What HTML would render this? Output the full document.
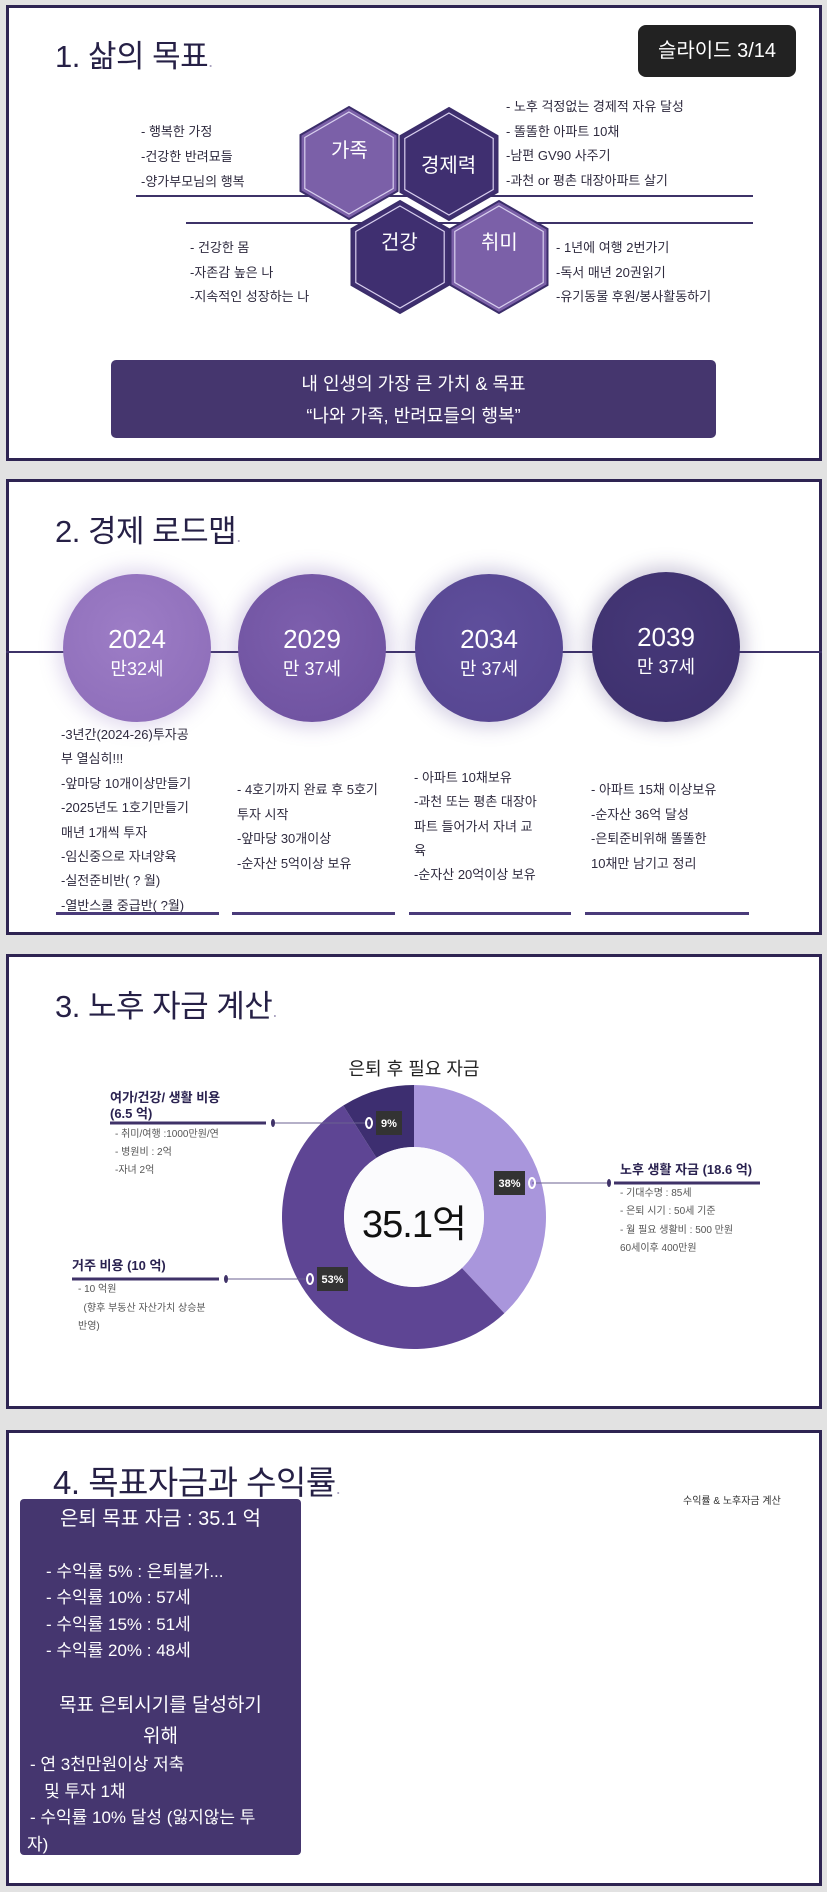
<!DOCTYPE html>
<html><head><meta charset="utf-8">
<style>
*{margin:0;padding:0;box-sizing:border-box}
body{width:827px;height:1892px;background:#e2e2e2;position:relative;overflow:hidden;font-family:"Liberation Sans","Noto Sans CJK KR",sans-serif;color:#2a2250}
.slide{position:absolute;left:6px;width:816px;background:#fff;border:3px solid #2e2452}
.abs{position:absolute;white-space:nowrap}
.title{font-size:31px;color:#262046;letter-spacing:-0.5px}
.title .dot{color:#aaa3c0;font-size:18px}
.t13{font-size:13px;color:#2e2a3e}
.line{position:absolute;background:#3d3268}
</style></head><body>

<!-- Slide 1 -->
<div class="slide" style="top:5px;height:456px"></div>
<div class="abs title" style="left:55px;top:31px">1. 삶의 목표<span class="dot">.</span></div>
<div class="abs" style="left:638px;top:25px;width:158px;height:52px;background:#222;border-radius:8px;color:#fff;font-size:20px;line-height:52px;text-align:center">슬라이드 3/14</div>
<div class="line" style="left:136px;top:195px;width:617px;height:2px"></div>
<div class="line" style="left:186px;top:222px;width:567px;height:2px"></div>
<svg class="abs" style="left:0;top:0" width="827" height="470">
<g id="hexes"></g>
</svg>
<div class="abs" style="left:331px;top:134px;font-size:20px;color:#fff">가족</div>
<div class="abs" style="left:421px;top:149px;font-size:20px;color:#fff">경제력</div>
<div class="abs" style="left:381px;top:226px;font-size:20px;color:#fff">건강</div>
<div class="abs" style="left:481px;top:226px;font-size:20px;color:#fff">취미</div>
<div class="abs t13" style="left:141px;top:119px;line-height:25px">- 행복한 가정<br>-건강한 반려묘들<br>-양가부모님의 행복</div>
<div class="abs t13" style="left:506px;top:95px;line-height:24.5px">- 노후 걱정없는 경제적 자유 달성<br>- 똘똘한 아파트 10채<br>-남편 GV90 사주기<br>-과천 or 평촌 대장아파트 살기</div>
<div class="abs t13" style="left:190px;top:236px;line-height:24.5px">- 건강한 몸<br>-자존감 높은 나<br>-지속적인 성장하는 나</div>
<div class="abs t13" style="left:556px;top:236px;line-height:24.5px">- 1년에 여행 2번가기<br>-독서 매년 20권읽기<br>-유기동물 후원/봉사활동하기</div>
<div class="abs" style="left:111px;top:360px;width:605px;height:78px;background:#45366e;border-radius:5px;color:#fff;font-size:18px;text-align:center;line-height:32px;padding-top:8px">내 인생의 가장 큰 가치 &amp; 목표<br>“나와 가족, 반려묘들의 행복”</div>

<!-- Slide 2 -->
<div class="slide" style="top:479px;height:456px"></div>
<div class="abs title" style="left:55px;top:506px">2. 경제 로드맵<span class="dot">.</span></div>
<div class="line" style="left:6px;top:651px;width:816px;height:2px"></div>
<div class="abs" style="left:63px;top:574px;width:148px;height:148px;border-radius:50%;background:radial-gradient(circle at 45% 40%,#9d7dc6,#8b6bb7);box-shadow:0 0 18px 6px rgba(140,110,190,.25);color:#fff;text-align:center"><div style="font-size:26px;margin-top:50px">2024</div><div style="font-size:18px">만32세</div></div>
<div class="abs" style="left:238px;top:574px;width:148px;height:148px;border-radius:50%;background:radial-gradient(circle at 45% 40%,#7d5fad,#6c509e);box-shadow:0 0 18px 6px rgba(110,85,170,.25);color:#fff;text-align:center"><div style="font-size:26px;margin-top:50px">2029</div><div style="font-size:18px">만 37세</div></div>
<div class="abs" style="left:415px;top:574px;width:148px;height:148px;border-radius:50%;background:radial-gradient(circle at 45% 40%,#5f4f9c,#55448f);box-shadow:0 0 18px 6px rgba(90,75,150,.25);color:#fff;text-align:center"><div style="font-size:26px;margin-top:50px">2034</div><div style="font-size:18px">만 37세</div></div>
<div class="abs" style="left:592px;top:572px;width:148px;height:150px;border-radius:50%;background:radial-gradient(circle at 45% 40%,#463878,#3c2f6c);box-shadow:0 0 18px 6px rgba(70,55,120,.25);color:#fff;text-align:center"><div style="font-size:26px;margin-top:50px">2039</div><div style="font-size:18px">만 37세</div></div>
<div class="abs t13" style="left:61px;top:723px;line-height:24.4px">-3년간(2024-26)투자공<br>부 열심히!!!<br>-앞마당 10개이상만들기<br>-2025년도 1호기만들기<br>매년 1개씩 투자<br>-임신중으로 자녀양육<br>-실전준비반( ? 월)<br>-열반스쿨 중급반( ?월)</div>
<div class="abs t13" style="left:237px;top:778px;line-height:24.5px">- 4호기까지 완료 후 5호기<br>투자 시작<br>-앞마당 30개이상<br>-순자산 5억이상 보유</div>
<div class="abs t13" style="left:414px;top:766px;line-height:24.3px">- 아파트 10채보유<br>-과천 또는 평촌 대장아<br>파트 들어가서 자녀 교<br>육<br>-순자산 20억이상 보유</div>
<div class="abs t13" style="left:591px;top:778px;line-height:24.5px">- 아파트 15채 이상보유<br>-순자산 36억 달성<br>-은퇴준비위해 똘똘한<br>10채만 남기고 정리</div>
<div class="line" style="left:56px;top:912px;width:163px;height:3px;background:#4a3b7a"></div>
<div class="line" style="left:232px;top:912px;width:163px;height:3px;background:#4a3b7a"></div>
<div class="line" style="left:409px;top:912px;width:162px;height:3px;background:#4a3b7a"></div>
<div class="line" style="left:585px;top:912px;width:164px;height:3px;background:#4a3b7a"></div>

<!-- Slide 3 -->
<div class="slide" style="top:954px;height:455px"></div>
<div class="abs title" style="left:55px;top:981px">3. 노후 자금 계산<span class="dot">.</span></div>
<div class="abs" style="left:344px;top:1055px;width:140px;text-align:center;font-size:18px;color:#222">은퇴 후 필요 자금</div>
<svg class="abs" id="donut" style="left:0;top:0" width="827" height="1892"></svg>
<div class="abs" style="left:334px;top:1193px;width:160px;text-align:center;font-size:38px;color:#111;letter-spacing:-1px">35.1억</div>
<div class="abs" style="left:620px;top:1159px;font-size:13px;font-weight:bold;color:#2a2250">노후 생활 자금 (18.6 억)</div>
<div class="abs" style="left:620px;top:1185px;font-size:10px;color:#555;line-height:18.3px">- 기대수명 : 85세<br>- 은퇴 시기 : 50세 기준<br>- 월 필요 생활비 : 500 만원<br>60세이후 400만원</div>
<div class="abs" style="left:110px;top:1090px;font-size:13px;font-weight:bold;color:#2a2250;line-height:16px">여가/건강/ 생활 비용<br>(6.5 억)</div>
<div class="abs" style="left:115px;top:1126px;font-size:10px;color:#555;line-height:18px">- 취미/여행 :1000만원/연<br>- 병원비 : 2억<br>-자녀 2억</div>
<div class="abs" style="left:72px;top:1255px;font-size:13px;font-weight:bold;color:#2a2250">거주 비용 (10 억)</div>
<div class="abs" style="left:78px;top:1281px;font-size:10px;color:#555;line-height:18.5px">- 10 억원<br>&nbsp;&nbsp;(향후 부동산 자산가치 상승분<br>반영)</div>

<!-- Slide 4 -->
<div class="slide" style="top:1430px;height:456px"></div>
<div class="abs title" style="left:53px;top:1456px;font-size:33px">4. 목표자금과 수익률<span class="dot">.</span></div>
<div class="abs" style="left:683px;top:1492px;font-size:10px;color:#333">수익률 &amp; 노후자금 계산</div>
<div class="abs" style="left:20px;top:1499px;width:281px;height:356px;background:#45366f;border-radius:4px;color:#fff;font-size:17px"></div>
<div class="abs" style="left:20px;top:1502px;width:281px;text-align:center;color:#fff;font-size:20px">은퇴 목표 자금 : 35.1 억</div>
<div class="abs" style="left:46px;top:1559px;color:#fff;font-size:17px;line-height:26.3px">- 수익률 5% : 은퇴불가...<br>- 수익률 10% : 57세<br>- 수익률 15% : 51세<br>- 수익률 20% : 48세</div>
<div class="abs" style="left:20px;top:1690px;width:281px;text-align:center;color:#fff;font-size:19px;line-height:31px">목표 은퇴시기를 달성하기<br>위해</div>
<div class="abs" style="left:30px;top:1752px;color:#fff;font-size:17px;line-height:26.7px">- 연 3천만원이상 저축<br>&nbsp;&nbsp;&nbsp;및 투자 1채<br>- 수익률 10% 달성 (잃지않는 투<br><span style="margin-left:-3px">자)</span></div>

<script>
// Hexagons
const hexNames=['family','economy','health','hobby'];
const hexCx=[349,449,400,499];
const hexCy=[163,164,257,257];
const hexFill=['#7b60a8','#3f2f70','#3f2f70','#7b60a8'];
const hg=document.getElementById('hexes');
const NS='http://www.w3.org/2000/svg';
function hexPts(cx,cy,r){let p=[];for(let i=0;i<6;i++){const a=Math.PI/180*(60*i-90);p.push((cx+r*Math.cos(a)).toFixed(1)+','+(cy+r*Math.sin(a)).toFixed(1));}return p.join(' ');}
hexNames.forEach((n,i)=>{
  const o=document.createElementNS(NS,'polygon');
  o.setAttribute('points',hexPts(hexCx[i],hexCy[i],56));
  o.setAttribute('fill',hexFill[i]);o.setAttribute('stroke','#3b2d6a');o.setAttribute('stroke-width','2');
  
  
  hg.appendChild(o);
  const inn=document.createElementNS(NS,'polygon');
  inn.setAttribute('points',hexPts(hexCx[i],hexCy[i],51));
  inn.setAttribute('fill','none');inn.setAttribute('stroke','#d8cfee');inn.setAttribute('stroke-width','1.2');
  
  
  hg.appendChild(inn);
});

// Donut chart data
const categories=['노후 생활 자금','거주 비용','여가/건강/ 생활 비용'];
const values=[18.6,10,6.5];
const pctLabels=['38%','53%','9%'];
const sliceColors=['#a996dc','#5e4594','#3d2e70'];
const shares=[38,53,9];
const svg=document.getElementById('donut');
const cx=414,cy=1217,R=132,r0=70;
function pt(a,rr){return [cx+rr*Math.sin(a),cy-rr*Math.cos(a)];}
const total=shares.reduce((a,b)=>a+b,0);
let acc=0;
const labelAnchors=[];
shares.forEach((v,i)=>{
  const a0=acc/total*2*Math.PI;acc+=v;const a1=acc/total*2*Math.PI;
  const large=(a1-a0)>Math.PI?1:0;
  const p0=pt(a0,R),p1=pt(a1,R),q1=pt(a1,r0),q0=pt(a0,r0);
  const path=document.createElementNS(NS,'path');
  path.setAttribute('d',`M${p0[0]},${p0[1]}A${R},${R} 0 ${large} 1 ${p1[0]},${p1[1]}L${q1[0]},${q1[1]}A${r0},${r0} 0 ${large} 0 ${q0[0]},${q0[1]}Z`);
  path.setAttribute('fill',sliceColors[i]);
  
  
  svg.appendChild(path);
  labelAnchors.push((a0+a1)/2);
});
// center shadow
const hole=document.createElementNS(NS,'circle');
hole.setAttribute('cx',cx);hole.setAttribute('cy',cy);hole.setAttribute('r',r0);hole.setAttribute('fill','#fbfbfd');


svg.appendChild(hole);
// leader lines (layout)
const ringPos=[[532,1183],[310,1279],[369,1123]];
const dotX=[609,226,273];
const thick=[[614,760],[72,219],[110,266]];
pctLabels.forEach((lab,i)=>{
  const [rx,ry]=ringPos[i];
  const ln=document.createElementNS(NS,'line');
  ln.setAttribute('x1',rx);ln.setAttribute('y1',ry);ln.setAttribute('x2',dotX[i]);ln.setAttribute('y2',ry);
  ln.setAttribute('stroke','#6b6190');ln.setAttribute('stroke-width','1');
  
  
  svg.appendChild(ln);
  const th=document.createElementNS(NS,'line');
  th.setAttribute('x1',thick[i][0]);th.setAttribute('y1',ry);th.setAttribute('x2',thick[i][1]);th.setAttribute('y2',ry);
  th.setAttribute('stroke','#3f3268');th.setAttribute('stroke-width','3');
  
  
  svg.appendChild(th);
  const d=document.createElementNS(NS,'ellipse');
  d.setAttribute('cx',dotX[i]);d.setAttribute('cy',ry);d.setAttribute('rx',2);d.setAttribute('ry',4);d.setAttribute('fill','#3f3268');
  
  
  svg.appendChild(d);
  const ring=document.createElementNS(NS,'ellipse');
  ring.setAttribute('cx',rx);ring.setAttribute('cy',ry);ring.setAttribute('rx',3);ring.setAttribute('ry',5);ring.setAttribute('fill','none');ring.setAttribute('stroke','#fff');ring.setAttribute('stroke-width','2');
  
  
  svg.appendChild(ring);
  const bx=i===0?rx-38:rx+7;
  const box=document.createElementNS(NS,'rect');
  box.setAttribute('x',bx);box.setAttribute('y',ry-12);box.setAttribute('width',i===2?26:31);box.setAttribute('height',24);box.setAttribute('fill','#333');
  
  
  svg.appendChild(box);
  const t=document.createElementNS(NS,'text');
  t.setAttribute('x',bx+(i===2?13:15.5));t.setAttribute('y',ry+4);t.setAttribute('text-anchor','middle');t.setAttribute('fill','#fff');t.setAttribute('font-size','11');t.setAttribute('font-weight','bold');
  t.setAttribute('font-family','Liberation Sans, sans-serif');
  t.textContent=lab;
  
  
  svg.appendChild(t);
});
</script>
</body></html>
